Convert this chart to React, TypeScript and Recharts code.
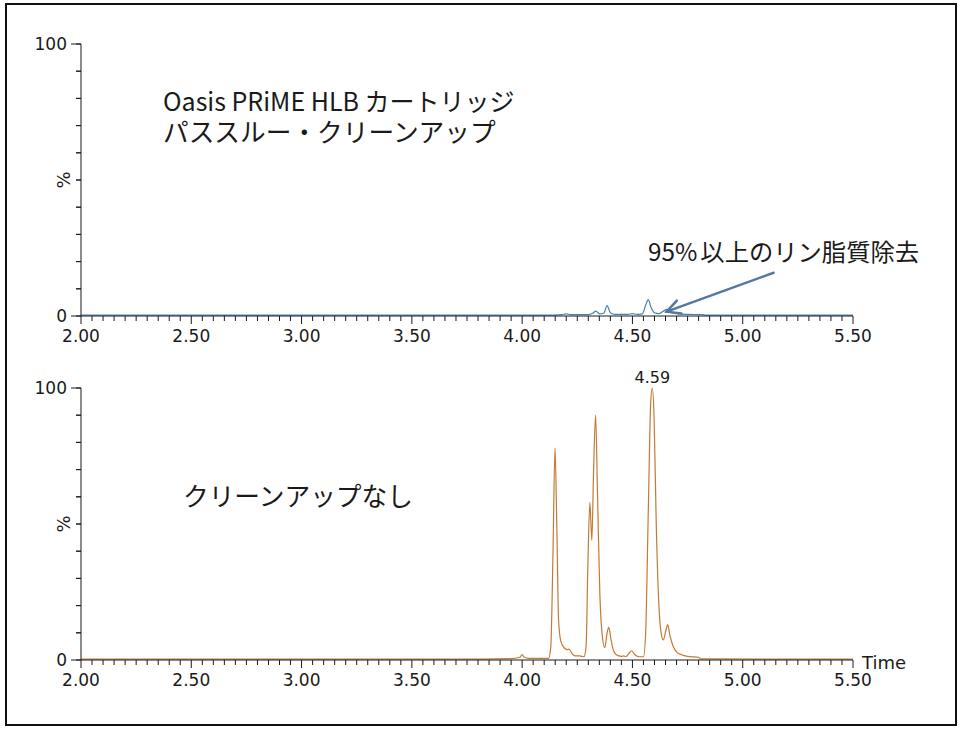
import React from 'react';
import { LineChart, Line, XAxis, YAxis, ReferenceLine, ReferenceDot, Customized } from 'recharts';

// retention time (min) / relative intensity (%)
const cleanTime = [2.0, 4.1, 4.18, 4.2, 4.22, 4.3, 4.32, 4.335, 4.35, 4.37, 4.385, 4.4, 4.42, 4.48, 4.5, 4.52, 4.545, 4.56, 4.572, 4.585, 4.6, 4.62, 4.64, 4.655, 4.67, 4.7, 4.75, 4.82, 4.83, 5.5];
const cleanPct = [0.3, 0.3, 0.5, 0.8, 0.5, 0.5, 1.0, 1.8, 0.8, 1.0, 3.8, 1.2, 0.6, 0.6, 0.9, 0.6, 0.8, 4, 6, 3, 1.2, 0.9, 1.8, 2.4, 1.5, 0.9, 0.6, 0.5, 0.3, 0.3];

const rawTime = [2.0, 3.7, 3.95, 3.99, 4.0, 4.01, 4.03, 4.12, 4.13, 4.14, 4.149, 4.157, 4.165, 4.175, 4.19, 4.205, 4.213, 4.225, 4.24, 4.26, 4.28, 4.29, 4.298, 4.307, 4.316, 4.324, 4.333, 4.342, 4.352, 4.362, 4.375, 4.385, 4.393, 4.402, 4.412, 4.425, 4.45, 4.46, 4.47, 4.485, 4.496, 4.51, 4.53, 4.55, 4.56, 4.572, 4.583, 4.59, 4.598, 4.608, 4.62, 4.63, 4.64, 4.652, 4.66, 4.67, 4.685, 4.7, 4.72, 4.75, 4.8, 4.81, 5.5];
const rawPct = [0.3, 0.3, 0.5, 1, 2, 1, 0.6, 0.6, 5, 40, 78, 50, 15, 7, 4.5, 3.8, 4, 2.5, 1.5, 1.5, 1.2, 5, 35, 58, 44, 70, 90, 60, 25, 10, 4.5, 10, 12, 8, 4, 2, 1.3, 1.5, 1.2, 2.5, 3.4, 2, 1.2, 1.2, 10, 55, 95, 100, 90, 50, 20, 10, 7.4, 11, 13, 9, 5, 3, 2, 1.3, 1, 0.4, 0.3];

const xLabels = [2, 2.5, 3, 3.5, 4, 4.5, 5, 5.5];
const yTicks = [0, 10, 20, 30, 40, 50, 60, 70, 80, 90, 100];
const xTicks = Array.from({ length: 71 }, (_, i) => +(2 + i * 0.05).toFixed(2));

const cleanData = cleanTime.map((t, i) => ({ t, v: cleanPct[i] }));
const rawData = rawTime.map((t, i) => ({ t, v: rawPct[i] }));

const TICK_FONT = '"DejaVu Sans", Verdana, sans-serif';
const JP_FONT = '"Noto Sans CJK JP", sans-serif';
const INK = '#1a1a1a';

const W = 963;
const H = 360;
const margin = { top: 44, right: 110, bottom: 14, left: 41 };
// 5px of the time axis, for the short y ticks left of the axis
const TICK_DX = (5 / 772) * 3.5;

function XTick({ x, y, payload }: any) {
  const v = payload.value;
  const major = xLabels.some((m) => Math.abs(m - v) < 1e-6);
  return (
    <g>
      <line x1={x} x2={x} y1={y} y2={y + (major ? 8 : 5)} stroke={INK} />
      {major && (
        <text x={x} y={y + 26} textAnchor="middle" fontFamily={TICK_FONT} fontSize={17} fill={INK}>
          {v.toFixed(2)}
        </text>
      )}
    </g>
  );
}

function YTick({ x, y, payload }: any) {
  const v = payload.value;
  const major = v === 0 || v === 100;
  return (
    <g>
      <line x1={x - (major ? 10 : 5)} x2={x} y1={y} y2={y} stroke={INK} />
      {major && (
        <text x={x - 14} y={y + 6} textAnchor="end" fontFamily={TICK_FONT} fontSize={17} fill={INK}>
          {v}
        </text>
      )}
    </g>
  );
}

function Arrow({ x1, y1, x2, y2 }: any) {
  const ang = Math.atan2(y1 - y2, x1 - x2);
  const len = 15;
  const a1 = ang - 0.47;
  const a2 = ang + 0.47;
  return (
    <g stroke="#5877a0" strokeWidth={2.5} fill="none" strokeLinecap="round">
      <line x1={x1} y1={y1} x2={x2} y2={y2} />
      <polyline
        points={`${x2 + len * Math.cos(a1)},${y2 + len * Math.sin(a1)} ${x2},${y2} ${x2 + len * Math.cos(a2)},${y2 + len * Math.sin(a2)}`}
      />
    </g>
  );
}

const Percent = () => (
  <text x={63} y={180} transform="rotate(-90 63 180)" textAnchor="middle" dominantBaseline="central" fontFamily={TICK_FONT} fontSize={18} fill={INK}>
    %
  </text>
);

const TopNotes = () => (
  <g fontFamily={JP_FONT} fill={INK}>
    <text x={163} y={111} fontSize={25}>Oasis PRiME HLB カートリッジ</text>
    <text x={163} y={142} fontSize={25.7}>パススルー・クリーンアップ</text>
    <text x={648} y={261} fontSize={24.3}>
      95%<tspan dx={3}>以上のリン脂質除去</tspan>
    </text>
  </g>
);

const BottomNotes = () => (
  <g fill={INK}>
    <text x={183} y={162} fontFamily={JP_FONT} fontSize={25.7}>クリーンアップなし</text>
    <text x={862} y={325} fontFamily={TICK_FONT} fontSize={18}>Time</text>
  </g>
);

function axes() {
  return [
    <XAxis
      key="x"
      dataKey="t"
      type="number"
      domain={[2, 5.5]}
      ticks={xTicks}
      interval={0}
      tick={<XTick />}
      tickSize={0}
      tickMargin={0}
      tickLine={false}
      axisLine={{ stroke: INK }}
      height={30}
      allowDataOverflow
    />,
    <YAxis
      key="y"
      type="number"
      domain={[0, 100]}
      ticks={yTicks}
      interval={0}
      tick={<YTick />}
      tickSize={0}
      tickMargin={0}
      tickLine={false}
      axisLine={{ stroke: INK }}
      width={40}
    />,
    ...yTicks.map((v) => (
      <ReferenceLine
        key={`yt${v}`}
        segment={[
          { x: 2 - TICK_DX, y: v },
          { x: 2, y: v },
        ]}
        stroke={INK}
        ifOverflow="visible"
      />
    )),
  ];
}

export default function App() {
  return (
    <div style={{ position: 'absolute', left: 0, top: 0, width: W, height: 729, background: '#fff' }}>
      <div
        style={{
          position: 'absolute',
          left: 5,
          top: 3,
          width: 952,
          height: 723,
          border: '2px solid #111',
          boxSizing: 'border-box',
        }}
      />
      <div style={{ position: 'absolute', left: 0, top: 0 }}>
        <LineChart width={W} height={H} data={cleanData} margin={margin}>
          {axes()}
          <Line dataKey="v" type="monotone" stroke="#4a7db2" strokeWidth={1.2} dot={false} isAnimationActive={false} />
          <ReferenceLine
            segment={[
              { x: 5.14, y: 15.9 },
              { x: 4.655, y: 1.6 },
            ]}
            shape={(p: any) => <Arrow {...p} />}
          />
          <Customized component={Percent} />
          <Customized component={TopNotes} />
        </LineChart>
      </div>
      <div style={{ position: 'absolute', left: 0, top: 344 }}>
        <LineChart width={W} height={H} data={rawData} margin={margin}>
          {axes()}
          <Line dataKey="v" type="monotone" stroke="#c27a36" strokeWidth={1.2} dot={false} isAnimationActive={false} />
          <ReferenceDot
            x={4.59}
            y={100}
            r={0}
            stroke="none"
            label={{ value: '4.59', position: 'top', offset: 5, fontFamily: TICK_FONT, fontSize: 16, fill: INK }}
          />
          <Customized component={Percent} />
          <Customized component={BottomNotes} />
        </LineChart>
      </div>
    </div>
  );
}
